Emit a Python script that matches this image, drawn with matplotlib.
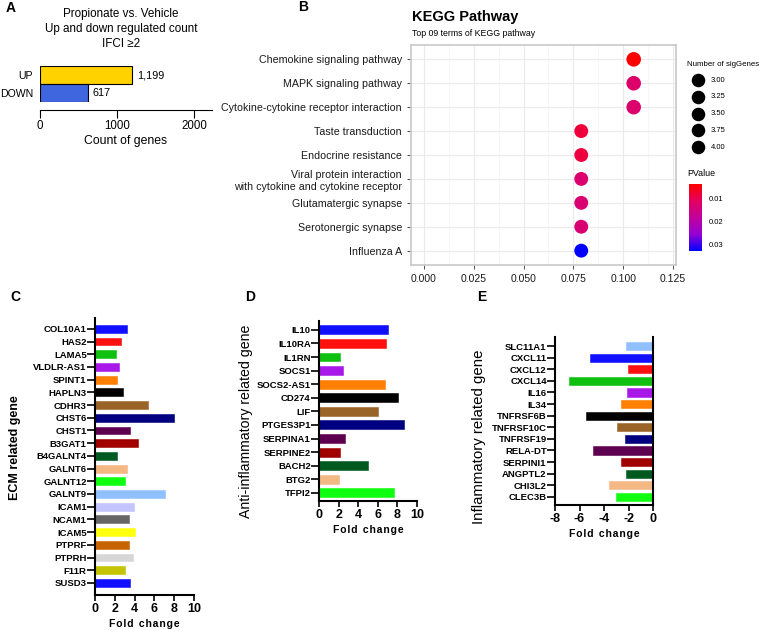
import numpy as np
import matplotlib
matplotlib.use("Agg")
import matplotlib.pyplot as plt
from matplotlib.colors import LinearSegmentedColormap, Normalize
from matplotlib.cm import ScalarMappable

plt.rcParams["font.family"] = ["Liberation Sans", "DejaVu Sans"]

W, H = 763, 630

# ---- data ----
# A: up / down counts
reg_labels = ["UP", "DOWN"]
reg_counts = [1199, 617]
reg_colors = ["#FFD200", "#3F66DE"]

# B: KEGG pathway enrichment
kegg_terms = [
    "Chemokine signaling pathway",
    "MAPK signaling pathway",
    "Cytokine-cytokine receptor interaction",
    "Taste transduction",
    "Endocrine resistance",
    "Viral protein interaction\nwith cytokine and cytokine receptor",
    "Glutamatergic synapse",
    "Serotonergic synapse",
    "Influenza A",
]
kegg_ratio = [4 / 38, 4 / 38, 4 / 38, 3 / 38, 3 / 38, 3 / 38, 3 / 38, 3 / 38, 3 / 38]
kegg_count = [4, 4, 4, 3, 3, 3, 3, 3, 3]
kegg_pvalue = [0.0039, 0.0125, 0.0128, 0.0085, 0.0088, 0.013, 0.0135, 0.0135, 0.033]
size_legend = [3.00, 3.25, 3.50, 3.75, 4.00]

# C: ECM related genes
ecm_genes = ["COL10A1", "HAS2", "LAMA5", "VLDLR-AS1", "SPINT1", "HAPLN3", "CDHR3",
             "CHST6", "CHST1", "B3GAT1", "B4GALNT4", "GALNT6", "GALNT12", "GALNT9",
             "ICAM1", "NCAM1", "ICAM5", "PTPRF", "PTPRH", "F11R", "SUSD3"]
ecm_fc = [3.22, 2.65, 2.11, 2.45, 2.25, 2.79, 5.40, 8.02, 3.49, 4.30, 2.18, 3.22,
          3.02, 7.11, 3.89, 3.46, 4.06, 3.42, 3.86, 3.02, 3.49]
ecm_colors = ["#1010FF", "#FF1010", "#10C010", "#A818E8", "#FF8000", "#000000",
              "#9A6428", "#000080", "#5E0050", "#A00000", "#005A20", "#F4B884",
              "#10FF10", "#90C0FF", "#C4C4FF", "#666666", "#FFFF10", "#C86400",
              "#D6D6D6", "#C4C400", "#1010FF"]

# D: anti-inflammatory genes
anti_genes = ["IL10", "IL10RA", "IL1RN", "SOCS1", "SOCS2-AS1", "CD274", "LIF",
              "PTGES3P1", "SERPINA1", "SERPINE2", "BACH2", "BTG2", "TFPI2"]
anti_fc = [7.0, 6.86, 2.12, 2.42, 6.69, 8.05, 5.97, 8.63, 2.63, 2.12, 4.95, 2.01, 7.65]
anti_colors = ["#1010FF", "#FF1010", "#10C010", "#A818E8", "#FF8000", "#000000",
               "#9A6428", "#000080", "#5E0050", "#A00000", "#005A20", "#F4B884",
               "#10FF10"]

# E: inflammatory genes
infl_genes = ["SLC11A1", "CXCL11", "CXCL12", "CXCL14", "IL16", "IL34", "TNFRSF6B",
              "TNFRSF10C", "TNFRSF19", "RELA-DT", "SERPINI1", "ANGPTL2", "CHI3L2",
              "CLEC3B"]
infl_fc = [-2.21, -5.16, -2.08, -6.83, -2.16, -2.6, -5.49, -2.92, -2.3, -4.86,
           -2.6, -2.19, -3.61, -3.06]
infl_colors = ["#90C0FF", "#1010FF", "#FF1010", "#10C010", "#A818E8", "#FF8000",
               "#000000", "#9A6428", "#000080", "#5E0050", "#A00000", "#005A20",
               "#F4B884", "#10FF10"]

fig = plt.figure(figsize=(W / 100, H / 100), dpi=100)


def px_axes(l, t, r, b):
    return fig.add_axes([l / W, 1 - b / H, (r - l) / W, (b - t) / H])


def ftext(x, y, s, **kw):
    fig.text(x / W, 1 - y / H, s, **kw)


# ---------- A ----------
axA = px_axes(40, 66, 212, 102)
ya = np.arange(len(reg_labels))[::-1]
axA.barh(ya, reg_counts, height=0.95, color=reg_colors, edgecolor="black", linewidth=0.8)
for y, v in zip(ya, reg_counts):
    axA.text(v + 60, y, f"{v:,}", va="center", ha="left", fontsize=7.8)
axA.set_xlim(0, 2230)
axA.set_ylim(-0.5, 1.5)
axA.set_yticks(ya)
axA.set_yticklabels(reg_labels, fontsize=7.6)
axA.tick_params(axis="y", length=0, pad=5)
axA.set_xticks([0, 1000, 2000])
axA.tick_params(axis="x", labelsize=8.3, length=6, width=0.8, pad=1)
for s in ["top", "right", "left"]:
    axA.spines[s].set_visible(False)
axA.spines["bottom"].set_position(("outward", 6))
axA.spines["bottom"].set_linewidth(0.8)
axA.set_xlabel("Count of genes", fontsize=8.8, labelpad=2)
ftext(121, 29, "Propionate vs. Vehicle\nUp and down regulated count\nIFCI \u22652",
      ha="center", va="center", fontsize=8.4, linespacing=1.38)
ftext(6, 8, "A", fontsize=10, fontweight="bold", va="center")

# ---------- B ----------
cmap = LinearSegmentedColormap.from_list(
    "pv", ["#FF0000", "#E4005E", "#C1009D", "#9600D3", "#0000FF"])
norm = Normalize(vmin=0.0039, vmax=0.033)

axB = px_axes(411, 45, 676, 265)
yb = np.arange(len(kegg_terms))[::-1] + 1
axB.scatter(kegg_ratio, yb, s=[70 + 10 * c for c in kegg_count],
            c=kegg_pvalue, cmap=cmap, norm=norm, zorder=3, linewidths=0)
axB.set_xlim(-0.0065, 0.1265)
axB.set_ylim(0.4, 9.6)
axB.set_xticks([0, 0.025, 0.05, 0.075, 0.1, 0.125])
axB.set_xticklabels(["0.000", "0.025", "0.050", "0.075", "0.100", "0.125"])
axB.set_xticks([0.0125, 0.0375, 0.0625, 0.0875, 0.1125], minor=True)
axB.set_yticks(yb)
axB.set_yticklabels(kegg_terms, fontsize=7.7, color="#1a1a1a")
axB.tick_params(axis="x", labelsize=7.5, colors="#333333", labelcolor="#1a1a1a",
                length=3, width=0.6)
axB.tick_params(axis="y", colors="#333333", labelcolor="#1a1a1a", length=3, width=0.6)
axB.tick_params(which="minor", length=0)
axB.grid(True, which="major", color="#EBEBEB", linewidth=0.8)
axB.grid(True, which="minor", axis="x", color="#F4F4F4", linewidth=0.5)
axB.set_axisbelow(True)
for s in axB.spines.values():
    s.set_color("#C8C8C8")
    s.set_linewidth(1.2)
ftext(412, 17, "KEGG Pathway", fontsize=10.5, fontweight="bold", va="center")
ftext(412, 33, "Top 09 terms of KEGG pathway", fontsize=6.3, va="center")
ftext(298, 7, "B", fontsize=10, fontweight="bold", va="center")

# size legend
legax = fig.add_axes([0, 0, 1, 1], facecolor="none")
legax.set_xlim(0, W)
legax.set_ylim(H, 0)
legax.axis("off")
ftext(687, 64, "Number of sigGenes", fontsize=5.7, va="center")
for i, sv in enumerate(size_legend):
    yy = 80 + i * 16.8
    legax.scatter([698], [yy], s=95, color="black", linewidths=0)
    ftext(711, yy, f"{sv:.2f}", fontsize=5.5, va="center")
ftext(687, 174, "PValue", fontsize=6.4, va="center")

cax = px_axes(689, 184, 702, 251)
cb = fig.colorbar(ScalarMappable(norm=norm, cmap=cmap), cax=cax)
cb.outline.set_visible(False)
cax.invert_yaxis()
cb.set_ticks([0.01, 0.02, 0.03])
cb.set_ticklabels(["0.01", "0.02", "0.03"])
cax.tick_params(labelsize=5.5, length=2, color="white", pad=3)


# ---------- C, D, E ----------
def gene_bars(ax, genes, values, colors, bar_h, ylim, xlim, xticks):
    y = np.arange(len(genes))
    ax.barh(y, values, height=bar_h, color=colors, edgecolor=colors, linewidth=0.4)
    ax.set_ylim(*ylim)
    ax.set_xlim(*xlim)
    ax.set_yticks(y)
    ax.set_yticklabels(genes, fontsize=6.8, fontweight="bold")
    ax.set_xticks(xticks)
    ax.set_xticklabels([str(t) for t in xticks], fontsize=9, fontweight="bold")
    ax.tick_params(axis="y", length=5.5, width=1.2, pad=0.5)
    ax.tick_params(axis="x", length=4, width=1.2, pad=1.5)
    for s in ["top", "right"]:
        ax.spines[s].set_visible(False)
    for s in ["left", "bottom"]:
        ax.spines[s].set_linewidth(1.5)
    ax.set_xlabel("F o l d  c h a n g e".replace("  ", "\u2002").replace(" ", "\u200a"),
                  fontsize=7.5, fontweight="bold", labelpad=3)


axC = px_axes(95, 318, 194, 595)
gene_bars(axC, ecm_genes, ecm_fc, ecm_colors, 0.62, (20.95, -0.85), (0, 10),
          [0, 2, 4, 6, 8, 10])
ftext(15, 448, "ECM related gene", rotation=90, ha="center", va="center",
      fontsize=9, fontweight="bold")
ftext(10, 297, "C", fontsize=10, fontweight="bold", va="center")

axD = px_axes(319, 321, 417, 501)
gene_bars(axD, anti_genes, anti_fc, anti_colors, 0.66, (12.6, -0.65), (0, 10),
          [0, 2, 4, 6, 8, 10])
ftext(246, 421, "Anti-inflammatory related gene", rotation=90, ha="center",
      va="center", fontsize=10.2)
ftext(245, 297, "D", fontsize=10, fontweight="bold", va="center")

axE = px_axes(555, 337, 653, 505)
gene_bars(axE, infl_genes, infl_fc, infl_colors, 0.7, (13.7, -0.78), (-8, 0),
          [-8, -6, -4, -2, 0])
axE.spines["right"].set_visible(True)
axE.spines["right"].set_linewidth(1.5)
ftext(479, 437, "Inflammatory related gene", rotation=90, ha="center",
      va="center", fontsize=10.8)
ftext(477, 297, "E", fontsize=10, fontweight="bold", va="center")

fig.savefig("out.png", dpi=100)
